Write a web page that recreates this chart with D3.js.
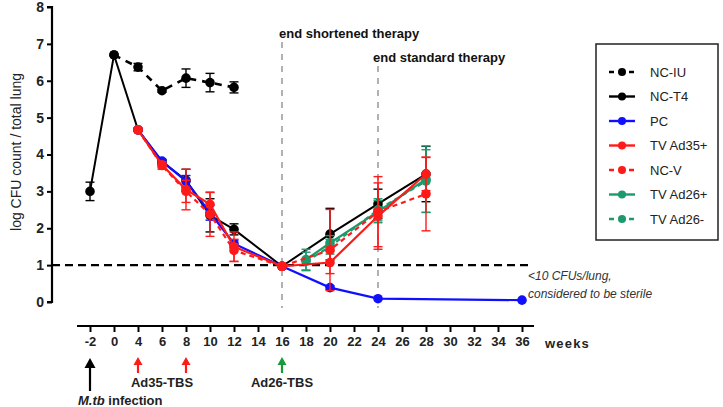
<!DOCTYPE html>
<html><head><meta charset="utf-8">
<script src="https://cdn.jsdelivr.net/npm/d3@7"></script>
<style>
html,body{margin:0;padding:0;background:#fff;}
svg{display:block;font-family:"Liberation Sans",Arial,sans-serif;}
</style></head>
<body>
<svg id="c" width="723" height="407"></svg>
<script>
const tickWeeks = [-2,0,4,6,8,10,12,14,16,18,20,22,24,26,28,30,32,34,36];
const yTicks = [0,1,2,3,4,5,6,7,8];

const ncIUWeeks = [0,4,6,8,10,12];
const ncIUVals  = [6.7,6.37,5.73,6.07,5.95,5.82];
const ncIUErr   = [0,0.1,0.04,0.25,0.25,0.15];

const ncT4Weeks = [-2,0,4,6,8,10,12,16,20,24,28];
const ncT4Vals  = [3.0,6.7,4.67,3.8,3.3,2.35,1.97,0.97,1.84,2.66,3.47];
const ncT4Err   = [0.25,0,0.05,0.05,0.3,0.45,0.15,0,0.7,0.4,0.75];

const pcWeeks = [4,6,8,10,12,16,20,24,36];
const pcVals  = [4.67,3.82,3.28,2.42,1.58,0.97,0.39,0.09,0.05];
const pcErr   = [0,0.05,0.15,0.2,0.1,0,0.05,0,0];

const tv35Weeks = [4,6,8,10,12,16,20,24,28];
const tv35Vals  = [4.67,3.72,3.05,2.65,1.5,0.97,1.07,2.33,3.47];
const tv35Err   = [0,0.08,0.55,0.32,0.4,0,0.3,0.9,0.45];

const ncVWeeks = [4,6,8,10,12,16,20,24,28];
const ncVVals  = [4.67,3.7,3.0,2.38,1.4,0.97,1.41,2.45,2.93];
const ncVErr   = [0,0.1,0.3,0.6,0.3,0,1.1,0.95,1.0];

const tv26pWeeks = [18,20,24,28];
const tv26pVals  = [1.15,1.6,2.45,3.33];
const tv26pErr   = [0.28,0.2,0.3,0.9];

const tv26mWeeks = [18,20,24,28];
const tv26mVals  = [1.1,1.5,2.5,3.28];
const tv26mErr   = [0.25,0.2,0.3,0.85];

const seriesNames = ["NC-IU","NC-T4","PC","TV Ad35+","NC-V","TV Ad26+","TV Ad26-"];

const BLACK="#000", BLUE="#1010ff", RED="#ff1a1a", GREEN="#1c9a6c";
const series = [
  {name:"NC-IU", w:ncIUWeeks, v:ncIUVals, e:ncIUErr, color:BLACK, dash:"7,6", width:2.6},
  {name:"NC-T4", w:ncT4Weeks, v:ncT4Vals, e:ncT4Err, color:BLACK, dash:null, width:2},
  {name:"PC", w:pcWeeks, v:pcVals, e:pcErr, color:BLUE, dash:null, width:2.2},
  {name:"TV Ad26+", w:tv26pWeeks, v:tv26pVals, e:tv26pErr, color:GREEN, dash:null, width:2.2},
  {name:"TV Ad26-", w:tv26mWeeks, v:tv26mVals, e:tv26mErr, color:GREEN, dash:"5,4", width:2.2},
  {name:"NC-V", w:ncVWeeks, v:ncVVals, e:ncVErr, color:RED, dash:"5,4", width:2.2},
  {name:"TV Ad35+", w:tv35Weeks, v:tv35Vals, e:tv35Err, color:RED, dash:null, width:2.2}
];
const legendStyle = {
  "NC-IU":{color:BLACK,dash:"5,5"},"NC-T4":{color:BLACK,dash:null},"PC":{color:BLUE,dash:null},
  "TV Ad35+":{color:RED,dash:null},"NC-V":{color:RED,dash:"5,5"},"TV Ad26+":{color:GREEN,dash:null},
  "TV Ad26-":{color:GREEN,dash:"5,5"}
};

const svg = d3.select("#c");
const x = d3.scaleLinear().domain([-2,0,4,36]).range([90,114,138,522]);
const y = d3.scaleLinear().domain([0,8]).range([302,7]);

// Y axis
const yAxis = d3.axisLeft(y).tickValues(yTicks).tickSize(5).tickPadding(3).tickFormat(d=>String(d));
const gy = svg.append("g").attr("transform","translate(52,0)").call(yAxis);
gy.select(".domain").attr("stroke","#000").attr("stroke-width",2.2).attr("d","M-5,7H0V302H-5");
gy.selectAll(".tick line").attr("stroke","#000").attr("stroke-width",2);
gy.selectAll(".tick text").attr("font-size",14).attr("font-weight","bold").attr("fill","#222")
  .attr("font-family","Liberation Sans, Arial, sans-serif");

svg.append("text").attr("transform","translate(21,152) rotate(-90)").attr("text-anchor","middle")
  .attr("font-size",14).attr("fill","#222").text("log CFU count / total lung");

// X axis (separate, below)
const xAxis = d3.axisBottom(x).tickValues(tickWeeks).tickSize(6).tickPadding(5).tickFormat(d=>String(d));
const gx = svg.append("g").attr("transform","translate(0,326)").call(xAxis);
gx.select(".domain").attr("stroke","#000").attr("stroke-width",2.2).attr("d","M77,0H534");
gx.selectAll(".tick line").attr("stroke","#000").attr("stroke-width",2);
gx.selectAll(".tick text").attr("font-size",13).attr("font-weight","bold").attr("fill","#222")
  .attr("font-family","Liberation Sans, Arial, sans-serif");
svg.append("text").attr("x",545).attr("y",348).attr("font-size",13).attr("font-weight","bold")
  .attr("letter-spacing",1.2).attr("fill","#222").text("weeks");

// Reference lines
svg.append("line").attr("x1",52).attr("x2",532).attr("y1",y(1)).attr("y2",y(1))
  .attr("stroke","#000").attr("stroke-width",2.2).attr("stroke-dasharray","8,5");
svg.append("line").attr("x1",x(16)).attr("x2",x(16)).attr("y1",42).attr("y2",308)
  .attr("stroke","#888").attr("stroke-width",1.3).attr("stroke-dasharray","6,6");
svg.append("line").attr("x1",x(24)).attr("x2",x(24)).attr("y1",66).attr("y2",308)
  .attr("stroke","#888").attr("stroke-width",1.3).attr("stroke-dasharray","6,6");
svg.append("text").attr("x",279).attr("y",38).attr("font-size",13).attr("font-weight","bold")
  .attr("fill","#111").text("end shortened therapy");
svg.append("text").attr("x",373).attr("y",62).attr("font-size",13).attr("font-weight","bold")
  .attr("fill","#111").text("end standard therapy");

svg.append("text").attr("x",528).attr("y",280).attr("font-size",12).attr("font-style","italic")
  .attr("fill","#333").text("<10 CFUs/lung,");
svg.append("text").attr("x",528).attr("y",298).attr("font-size",12).attr("font-style","italic")
  .attr("fill","#333").text("considered to be sterile");

// Series
const line = d3.line().x(d=>x(d.w)).y(d=>y(d.v));
series.forEach(s=>{
  const pts = s.w.map((w,i)=>({w:w,v:s.v[i],e:s.e[i]}));
  const g = svg.append("g");
  const eb = g.selectAll(".eb").data(pts.filter(p=>p.e>0)).enter().append("g");
  eb.append("line").attr("x1",d=>x(d.w)).attr("x2",d=>x(d.w)).attr("y1",d=>y(d.v+d.e)).attr("y2",d=>y(d.v-d.e))
    .attr("stroke",s.color).attr("stroke-width",1.4);
  [1,-1].forEach(sg=>{
    eb.append("line").attr("x1",d=>x(d.w)-4.5).attr("x2",d=>x(d.w)+4.5)
      .attr("y1",d=>y(d.v+sg*d.e)).attr("y2",d=>y(d.v+sg*d.e))
      .attr("stroke",s.color).attr("stroke-width",1.4);
  });
  g.append("path").datum(pts).attr("d",line).attr("fill","none").attr("stroke",s.color)
    .attr("stroke-width",s.width).attr("stroke-dasharray",s.dash);
  g.selectAll("circle").data(pts).enter().append("circle").attr("cx",d=>x(d.w)).attr("cy",d=>y(d.v))
    .attr("r",4.8).attr("fill",s.color);
});

// Legend
svg.append("rect").attr("x",596).attr("y",44).attr("width",122).attr("height",196)
  .attr("fill","#fff").attr("stroke","#222").attr("stroke-width",1.5);
seriesNames.forEach((n,i)=>{
  const ly = 72 + i*24.5;
  const st = legendStyle[n];
  svg.append("line").attr("x1",609).attr("x2",635).attr("y1",ly).attr("y2",ly)
    .attr("stroke",st.color).attr("stroke-width",2.4).attr("stroke-dasharray",st.dash);
  svg.append("circle").attr("cx",622).attr("cy",ly).attr("r",4).attr("fill",st.color);
  svg.append("text").attr("x",650).attr("y",ly+4.5).attr("font-size",13).attr("fill","#222").text(n);
});

// Arrows / treatment annotations
function arrow(xp, y1, y2, color, w, hw, hl){
  svg.append("line").attr("x1",xp).attr("x2",xp).attr("y1",y1).attr("y2",y2+hl-1)
    .attr("stroke",color).attr("stroke-width",w);
  svg.append("path").attr("d",`M${xp-hw},${y2+hl}L${xp},${y2}L${xp+hw},${y2+hl}Z`).attr("fill",color);
}
arrow(x(-2), 391, 358, "#000", 2.2, 5.5, 10);
arrow(x(4), 373, 357, RED, 2.2, 4.5, 8);
arrow(x(8), 373, 357, RED, 2.2, 4.5, 8);
arrow(x(16), 373, 357, "#1c9a3a", 2.2, 4.5, 8);
svg.append("text").attr("x",(x(4)+x(8))/2).attr("y",387).attr("text-anchor","middle")
  .attr("font-size",13).attr("font-weight","bold").attr("fill","#222").text("Ad35-TBS");
svg.append("text").attr("x",x(16)).attr("y",387).attr("text-anchor","middle")
  .attr("font-size",13).attr("font-weight","bold").attr("fill","#222").text("Ad26-TBS");
const inf = svg.append("text").attr("x",78).attr("y",405).attr("font-size",13).attr("font-weight","bold").attr("fill","#222");
inf.append("tspan").attr("font-style","italic").text("M.tb");
inf.append("tspan").text(" infection");
</script>
</body></html>
